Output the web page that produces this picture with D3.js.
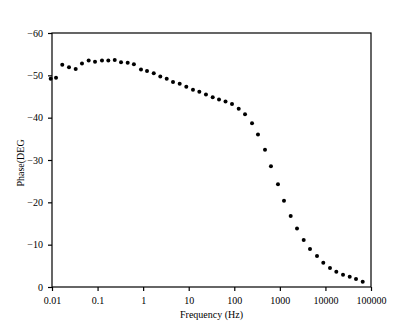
<!DOCTYPE html>
<html>
<head>
<meta charset="utf-8">
<script src="https://cdn.jsdelivr.net/npm/d3@7"></script>
<style>
html,body{margin:0;padding:0;background:#fff;}
svg{display:block;}
text{font-family:"Liberation Serif","DejaVu Serif",serif;fill:#000;}
</style>
</head>
<body>
<svg id="chart" width="403" height="327"></svg>
<script>
const frequency = [0.00936,0.01225,0.0168,0.0236,0.0331,0.0455,0.0638,0.0879,0.125,0.172,0.238,0.327,0.458,0.627,0.897,1.216,1.71,2.38,3.29,4.52,6.34,8.85,12.4,17.1,23.9,33.6,46.2,64.2,89.1,125,172,245,331,472,638,910,1232,1728,2379,3336,4585,6531,8973,12590,17330,24320,34120,46880,65770];
const phase = [-49.2,-49.4,-52.5,-51.9,-51.5,-52.8,-53.5,-53.2,-53.5,-53.5,-53.6,-53.1,-53.0,-52.6,-51.4,-51.0,-50.5,-49.7,-49.2,-48.4,-48.0,-47.3,-46.6,-46.1,-45.5,-44.8,-44.3,-43.8,-43.2,-42.1,-40.8,-38.7,-36.0,-32.4,-28.5,-24.3,-20.4,-16.8,-13.8,-11.1,-9.0,-7.3,-5.7,-4.5,-3.6,-2.9,-2.4,-1.9,-1.25];
const xTicks = [0.01,0.1,1,10,100,1000,10000,100000];
const xTickLabels = ["0.01","0.1","1","10","100","1000","10000","100000"];
const yTicks = [0,-10,-20,-30,-40,-50,-60];
const xTitle = "Frequency (Hz)";
const yTitle = "Phase(DEG";

const svg = d3.select("#chart");
const L = 52, R = 371, T = 33, B = 287;

const x = d3.scaleLog().domain([0.01, 100000]).range([L, R]);
const y = d3.scaleLinear().domain([0, -60]).range([B, T]);

svg.append("rect").attr("x", L).attr("y", T).attr("width", R - L).attr("height", B - T)
  .attr("fill", "none").attr("stroke", "#000").attr("stroke-width", 1.2);

const xAxis = d3.axisBottom(x).tickValues(xTicks)
  .tickFormat((d, i) => xTickLabels[i]).tickSizeOuter(0).tickSizeInner(4).tickPadding(6);
const gx = svg.append("g").attr("transform", `translate(0,${B})`).call(xAxis);
gx.select(".domain").remove();
gx.selectAll("line").attr("stroke", "#000").attr("stroke-width", 1.2);
gx.selectAll("text").attr("font-size", 10).attr("font-family", "Liberation Serif");

const yAxis = d3.axisLeft(y).tickValues(yTicks).tickFormat(d3.format("d"))
  .tickSizeOuter(0).tickSizeInner(4).tickPadding(5);
const gy = svg.append("g").attr("transform", `translate(${L},0)`).call(yAxis);
gy.select(".domain").remove();
gy.selectAll("line").attr("stroke", "#000").attr("stroke-width", 1.2);
gy.selectAll("text").attr("font-size", 10).attr("font-family", "Liberation Serif");

svg.append("g").selectAll("circle").data(frequency).join("circle")
  .attr("cx", d => x(d)).attr("cy", (d, i) => y(phase[i]))
  .attr("r", 2).attr("fill", "#000");

svg.append("text").attr("x", (L + R) / 2).attr("y", 318)
  .attr("text-anchor", "middle").attr("font-size", 10).text(xTitle);
svg.append("text").attr("transform", `translate(24,163) rotate(-90)`)
  .attr("text-anchor", "middle").attr("font-size", 10).text(yTitle);
</script>
</body>
</html>
